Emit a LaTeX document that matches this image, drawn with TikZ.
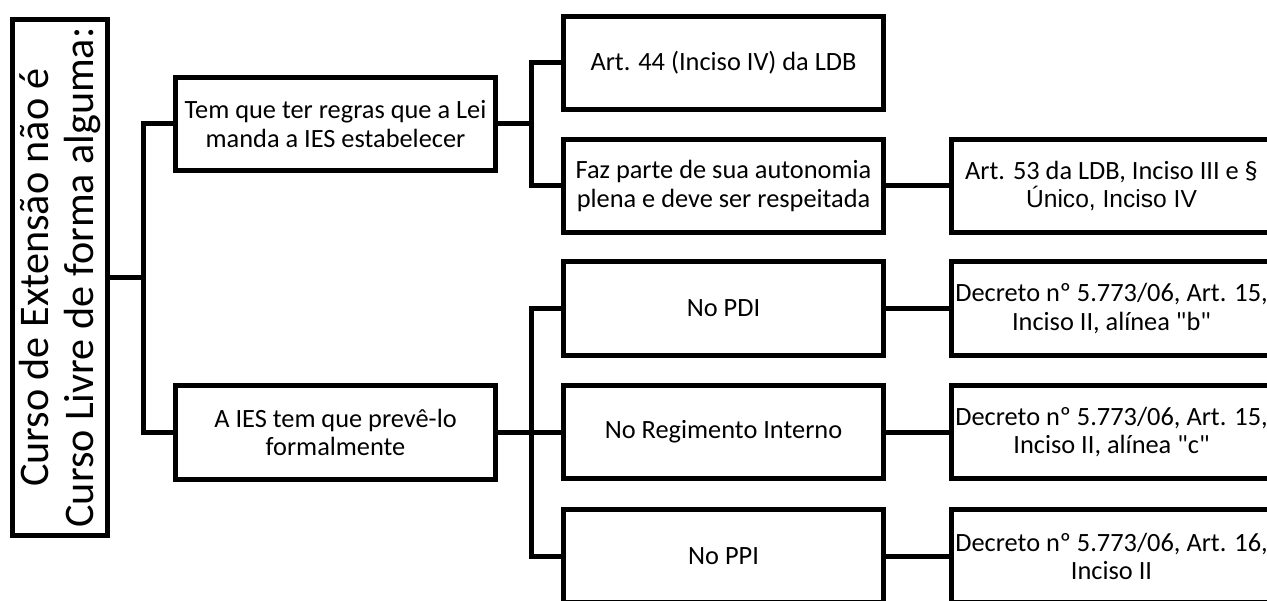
\documentclass[tikz,border=0pt]{standalone}
\usepackage{fontspec}
\setmainfont{Carlito}
\newfontfamily\arialfont{Liberation Sans}
\tikzset{
  box/.style={draw, line width=0.1cm, minimum width=6.4cm, minimum height=1.88cm,
    inner sep=0pt, align=center, font=\fontsize{15}{16}\selectfont},
  rootbox/.style={draw, line width=0.1cm, rotate=90, minimum width=10.32cm,
    minimum height=1.9cm, inner sep=0pt, align=center, font=\fontsize{24}{26}\selectfont},
  link/.style={line width=0.1cm}
}
\begin{document}
\begin{tikzpicture}[x=0.02cm, y=-0.02cm]
\useasboundingbox (0,0) rectangle (1267,601);
\clip (0,0) rectangle (1267,601);
\node[rootbox] (root) at (60,277.5) {Curso de Extensão não é\\Curso Livre de forma alguma:};
\node[box] (regras) at (335.5,124) {Tem que ter regras que a Lei\\manda a IES estabelecer};
\node[box] (preve) at (335.5,432.5) {A IES tem que prevê-lo\\formalmente};
\node[box] (art44) at (723.5,63) {Art. 44 (Inciso IV) da LDB};
\node[box] (autonomia) at (723.5,186) {Faz parte de sua autonomia\\plena e deve ser respeitada};
\node[box] (pdi) at (723.5,308.5) {No PDI};
\node[box] (regimento) at (723.5,432) {No Regimento Interno};
\node[box] (ppi) at (723.5,556) {No PPI};
\node[box] (art53) at (1111.5,186) {Art. 53 da LDB, Inciso III e \S\\{\arialfont\fontsize{14}{16}\selectfont Único, Inciso IV}};
\node[box] (decpdi) at (1111.5,308.5) {Decreto nº 5.773/06, Art. 15,\\Inciso II, alínea \textquotedbl b\textquotedbl};
\node[box] (decregimento) at (1111.5,432) {Decreto nº 5.773/06, Art. 15,\\Inciso II, alínea \textquotedbl c\textquotedbl};
\node[box] (decppi) at (1111.5,556) {Decreto nº 5.773/06, Art. 16,\\Inciso II};
% junctions
\coordinate (j1) at ([xshift=0.67cm]root.south);
\coordinate (j2) at ([xshift=0.68cm]regras.east);
\coordinate (j3) at ([xshift=0.68cm]preve.east);
\draw[link] (root.south) -- (j1) |- (regras.west);
\draw[link] (j1) |- (preve.west);
\draw[link] (regras.east) -- (j2) |- (art44.west);
\draw[link] (j2) |- (autonomia.west);
\draw[link] (preve.east) -- (j3) |- (pdi.west);
\draw[link] (j3) |- (regimento.west);
\draw[link] (j3) |- (ppi.west);
\draw[link] (autonomia) -- (art53);
\draw[link] (pdi) -- (decpdi);
\draw[link] (regimento) -- (decregimento);
\draw[link] (ppi) -- (decppi);
\end{tikzpicture}
\end{document}
